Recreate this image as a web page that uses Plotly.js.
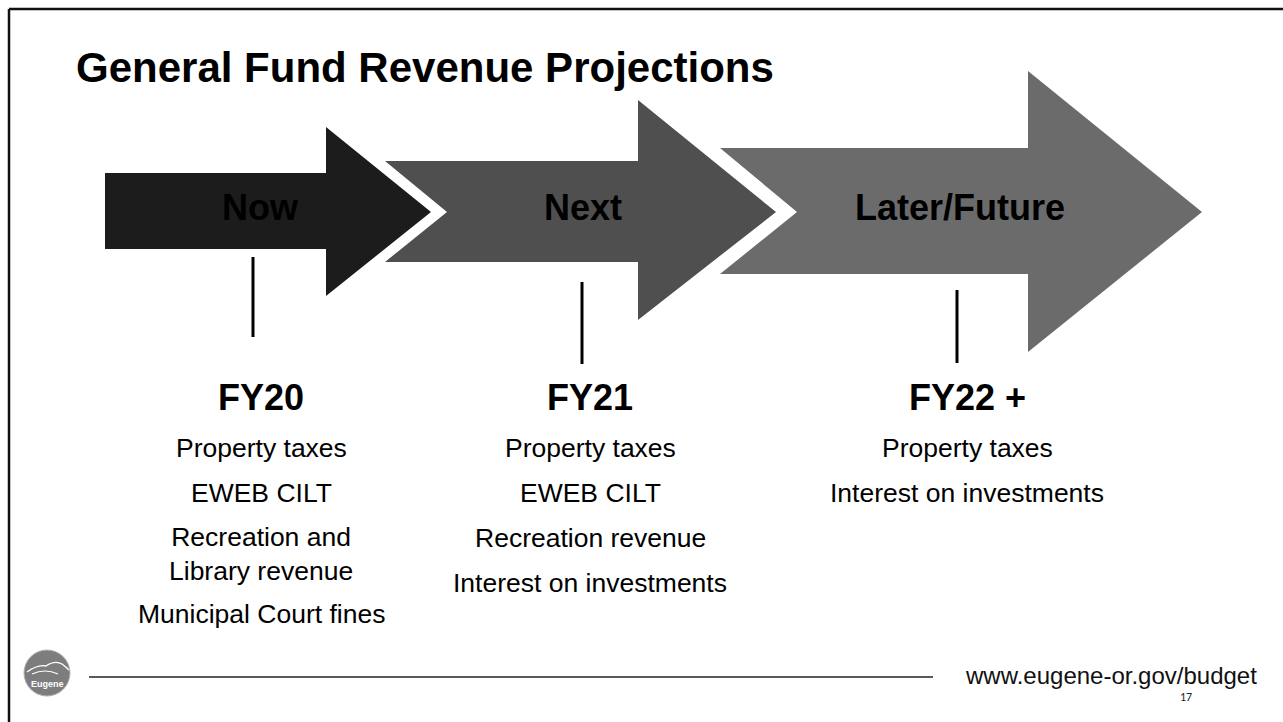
<!DOCTYPE html>
<html>
<head>
<meta charset="utf-8">
<script src="https://cdn.plot.ly/plotly-3.0.1.min.js"></script>
<style>html,body{margin:0;padding:0;background:#fff;}#chart{width:1283px;height:722px;}</style>
</head>
<body>
<div id="chart"></div>
<script>
// ---- content ----
const slideTitle = "General Fund Revenue Projections";
const stages = ["Now", "Next", "Later/Future"];
const fiscalYears = ["FY20", "FY21", "FY22 +"];
const itemsFY20 = ["Property taxes", "EWEB CILT", "Recreation and<br>Library revenue", "Municipal Court fines"];
const itemsFY21 = ["Property taxes", "EWEB CILT", "Recreation revenue", "Interest on investments"];
const itemsFY22 = ["Property taxes", "Interest on investments"];
const footerUrl = "www.eugene-or.gov/budget";
const pageNumber = "17";
const logoText = "Eugene";

// ---- layout geometry (pixel space) ----
const arrowColors = ["#1c1c1c", "#4f4f4f", "#6b6b6b"];
const arrowGeom = [
  {xL:105, nd:0,  bt:173, bb:249, hx:326,  ht:127, hb:296, tx:431},
  {xL:385, nd:62, bt:161, bb:262, hx:638,  ht:100, hb:320, tx:776},
  {xL:720, nd:77, bt:148, bb:274, hx:1028, ht:71,  hb:352, tx:1202}
];
const midY = 212;
const labelX = [260, 583, 960];
const columnX = [261, 590, 967];
const stemX = [253, 582, 957];
const stemTop = [257, 282, 290];
const stemBottom = [337, 364, 363];
const FONT = "Liberation Sans, Arial, sans-serif";

const itemLists = [itemsFY20, itemsFY21, itemsFY22];

const shapes = [];
const annotations = [];

// arrows (drawn from back to front)
for (let i = arrowGeom.length - 1; i >= 0; i--) {
  const g = arrowGeom[i];
  const p = `M ${g.xL},${g.bt} L ${g.hx},${g.bt} L ${g.hx},${g.ht} L ${g.tx},${midY} L ${g.hx},${g.hb} L ${g.hx},${g.bb} L ${g.xL},${g.bb} L ${g.xL + g.nd},${midY} Z`;
  shapes.push({type:"path", path:p, xref:"x", yref:"y", fillcolor:arrowColors[i], line:{width:0}, layer:"below"});
}
// stems
for (let i = 0; i < stemX.length; i++) {
  shapes.push({type:"line", xref:"x", yref:"y", x0:stemX[i], x1:stemX[i], y0:stemTop[i], y1:stemBottom[i], line:{color:"#000", width:3}});
}
// frame
shapes.push({type:"line", xref:"x", yref:"y", x0:9, x1:1290, y0:9, y1:9, line:{color:"#111", width:2.5}});
shapes.push({type:"line", xref:"x", yref:"y", x0:9, x1:9, y0:9, y1:730, line:{color:"#111", width:2.5}});
// footer rule
shapes.push({type:"line", xref:"x", yref:"y", x0:89, x1:933, y0:677, y1:677, line:{color:"#222", width:1.5}});
// logo
shapes.push({type:"circle", xref:"x", yref:"y", x0:24, x1:70, y0:650, y1:696, fillcolor:"#7d7d7d", line:{color:"#b0b0b0", width:1}});
shapes.push({type:"path", xref:"x", yref:"y", path:"M 27,672 Q 38,664 46,666 Q 55,660 62,664 Q 66,667 69,670", line:{color:"#fff", width:1.3}});
shapes.push({type:"path", xref:"x", yref:"y", path:"M 32,674 Q 45,668 58,674", line:{color:"#fff", width:1.2}});

// title
annotations.push({text:slideTitle, x:74, y:67, xref:"x", yref:"y", xanchor:"left", yanchor:"middle", showarrow:false,
  font:{family:FONT, size:42, color:"#000", weight:"bold"}});
// arrow labels
stages.forEach((s, i) => {
  annotations.push({text:s, x:labelX[i], y:midY - 5, xref:"x", yref:"y", xanchor:"center", yanchor:"middle", showarrow:false,
    font:{family:FONT, size:36, color:"#000", weight:"bold"}});
});
// fiscal year heads and lists
const itemSize = 26.5, lineGap = 31, paraGap = 45;
fiscalYears.forEach((fy, i) => {
  annotations.push({text:fy, x:columnX[i], y:410 - 13, xref:"x", yref:"y", xanchor:"center", yanchor:"middle", showarrow:false,
    font:{family:FONT, size:36, color:"#000", weight:"bold"}});
  let base = 457;
  itemLists[i].forEach((it) => {
    const nLines = it.split("<br>").length;
    const lastBase = base + (nLines - 1) * lineGap;
    const center = (base + lastBase) / 2 - 9;
    annotations.push({text:it, x:columnX[i], y:center, xref:"x", yref:"y", xanchor:"center", yanchor:"middle", showarrow:false,
      align:"center", font:{family:FONT, size:itemSize, color:"#000"}});
    base = lastBase + paraGap;
  });
});
// footer texts
annotations.push({text:footerUrl, x:1259, y:675, xref:"x", yref:"y", xanchor:"right", yanchor:"middle", showarrow:false,
  font:{family:FONT, size:24, color:"#111"}});
annotations.push({text:pageNumber, x:1186, y:697, xref:"x", yref:"y", xanchor:"center", yanchor:"middle", showarrow:false,
  font:{family:"Carlito, Open Sans, sans-serif", size:12, color:"#222"}});
annotations.push({text:logoText, x:47, y:684, xref:"x", yref:"y", xanchor:"center", yanchor:"middle", showarrow:false,
  font:{family:FONT, size:9, color:"#fff", weight:"bold"}});

const layout = {
  width:1283, height:722,
  margin:{l:0, r:0, t:0, b:0},
  paper_bgcolor:"#fff", plot_bgcolor:"#fff",
  xaxis:{range:[0,1283], visible:false, fixedrange:true},
  yaxis:{range:[722,0], visible:false, fixedrange:true},
  showlegend:false,
  shapes:shapes,
  annotations:annotations
};
Plotly.newPlot("chart", [], layout, {displayModeBar:false, staticPlot:true});
</script>
</body>
</html>
